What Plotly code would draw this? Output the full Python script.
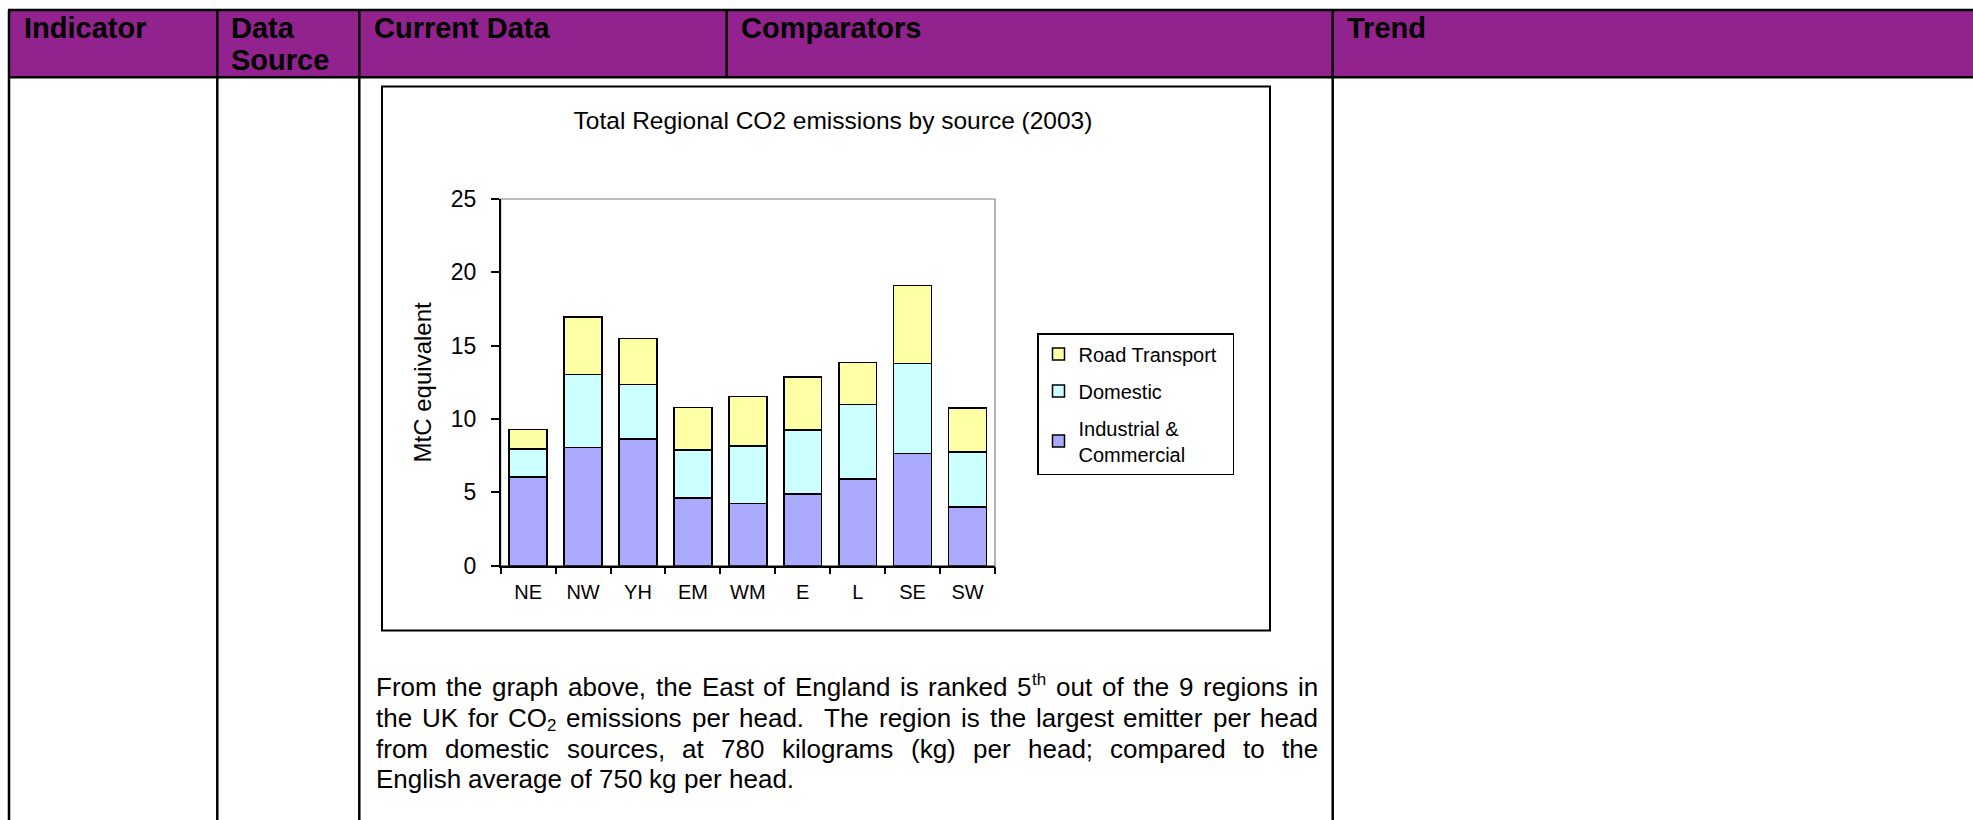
import re
import plotly.graph_objects as go

W, H = 1973, 820

# ---- data ----
regions = ["NE", "NW", "YH", "EM", "WM", "E", "L", "SE", "SW"]
industrial = [6.05, 8.05, 8.65, 4.6, 4.25, 4.9, 5.9, 7.65, 4.0]
domestic = [1.9, 5.0, 3.7, 3.3, 3.9, 4.35, 5.1, 6.15, 3.75]
road = [1.35, 3.9, 3.15, 2.9, 3.4, 3.6, 2.85, 5.3, 3.0]
series_names = ["Industrial &<br>Commercial", "Domestic", "Road Transport\u00a0\u00a0"]
series_colors = ["#AAAAFF", "#CCFFFF", "#FFFFA6"]
legend_ranks = [3, 2, 1]
y_ticks = [0, 5, 10, 15, 20, 25]

chart_title = "Total Regional CO2 emissions by source (2003)"
y_title = "MtC equivalent"
header_labels = ["Indicator", "Current Data", "Comparators", "Trend"]
paragraph = [
    "From the graph above, the East of England is ranked 5<sup>th</sup> out of the 9 regions in",
    "the UK for CO<sub>2</sub> emissions per head.  The region is the largest emitter per head",
    "from domestic sources, at 780 kilograms (kg) per head; compared to the",
    "English average of 750 kg per head.",
]

FONT = "Liberation Sans, Arial, sans-serif"

# Arial / Liberation Sans advance widths (1/1000 em) for text layout
AW = {' ': 278, ',': 278, '.': 278, ';': 278, '(': 333, ')': 333, '&': 667}
AW.update({d: 556 for d in "0123456789"})
AW.update(dict(A=667, B=667, C=722, D=722, E=667, F=611, G=778, H=722, I=278, K=667, L=556,
               M=833, N=722, O=778, R=722, S=667, T=611, U=722, W=944, Y=667))
AW.update(dict(a=556, b=556, c=500, d=556, e=556, f=278, g=556, h=556, i=222, j=222, k=500,
               l=222, m=833, n=556, o=556, p=556, q=556, r=333, s=500, t=278, u=556, v=500,
               w=722, x=500, y=500, z=500))


def tw(s, size):
    return sum(AW.get(c, 556) for c in s) / 1000.0 * size


def px(x):
    return x / W


def py(y):
    return 1 - y / H


fig = go.Figure()
for name, vals, col, rk in zip(series_names, [industrial, domestic, road], series_colors, legend_ranks):
    fig.add_trace(go.Bar(
        x=regions, y=vals, name=name, legendgroup=name, legendrank=rk,
        marker=dict(color=col, line=dict(color="black", width=1.5)),
    ))

shapes = []
purple = "#92228E"
shapes.append(dict(type="rect", xref="paper", yref="paper", x0=px(9), x1=1.01, y0=py(77), y1=py(10),
                   fillcolor=purple, line=dict(width=0), layer="below"))
for yy in (10, 77.3):
    shapes.append(dict(type="line", xref="paper", yref="paper", x0=px(8), x1=1.01, y0=py(yy), y1=py(yy),
                       line=dict(color="black", width=2.5)))
for xx in (9, 217.3, 359.3, 1332.7):
    shapes.append(dict(type="line", xref="paper", yref="paper", x0=px(xx), x1=px(xx), y0=py(10), y1=py(822),
                       line=dict(color="black", width=2.5)))
shapes.append(dict(type="line", xref="paper", yref="paper", x0=px(726.7), x1=px(726.7), y0=py(10), y1=py(77.3),
                   line=dict(color="black", width=2.5)))
# chart box
shapes.append(dict(type="rect", xref="paper", yref="paper", x0=px(382), x1=px(1270), y0=py(630.5), y1=py(86.5),
                   line=dict(color="black", width=2), fillcolor="rgba(0,0,0,0)"))
# plot area border (grey)
shapes.append(dict(type="rect", xref="x domain", yref="y domain", x0=0, x1=1, y0=0, y1=1,
                   line=dict(color="#808080", width=1.2), layer="below"))

annotations = []


def ann(text, x, y, size, bold=False, xanchor="left"):
    annotations.append(dict(text=("<b>%s</b>" % text) if bold else text, xref="paper", yref="paper",
                            x=px(x), y=py(y), xanchor=xanchor, yanchor="middle", showarrow=False,
                            borderpad=0, font=dict(family=FONT, size=size, color="black")))


ann(header_labels[0], 23, 27.5, 29, True)
ann("Data", 230, 27.5, 29, True)
ann("Source", 230, 60.5, 29, True)
ann(header_labels[1], 373, 27.5, 29, True)
ann(header_labels[2], 740, 27.5, 29, True)
ann(header_labels[3], 1346, 27.5, 29, True)

# justified paragraph, laid out word by word
LEFT, RIGHT, FS, SFS = 375, 1317, 26, 17
line_y = [686.5, 717.5, 748.5, 778.8]


def pieces_of(word):
    out, pos = [], 0
    for m in re.finditer(r"<(sup|sub)>(.*?)</\1>", word):
        if m.start() > pos:
            out.append((word[pos:m.start()], "n"))
        out.append((m.group(2), m.group(1)))
        pos = m.end()
    if pos < len(word):
        out.append((word[pos:], "n"))
    return out


def piece_w(p):
    return tw(p[0], FS if p[1] == "n" else SFS)


for li, line in enumerate(paragraph):
    tokens = line.split(" ")
    nsp = len(tokens) - 1
    words_w = sum(piece_w(p) for t in tokens for p in pieces_of(t))
    sp = tw(" ", FS)
    natural = words_w + nsp * sp
    justify = li < len(paragraph) - 1
    if justify:
        sp = sp + (RIGHT - LEFT - natural) / nsp
    x = LEFT
    yc = line_y[li]
    for t in tokens:
        for p in pieces_of(t):
            if p[1] == "n":
                ann(p[0], x, yc, FS)
            elif p[1] == "sup":
                ann(p[0], x, yc - 7.5, SFS)
            else:
                ann(p[0], x, yc + 7.5, SFS)
            x += piece_w(p)
        x += sp

fig.update_layout(
    width=W, height=H,
    margin=dict(l=0, r=0, t=0, b=0, autoexpand=False),
    paper_bgcolor="white", plot_bgcolor="white",
    barmode="stack", bargap=0.31,
    font=dict(family=FONT, color="black"),
    title=dict(text=chart_title, x=px(833), y=py(120), xref="paper", yref="paper",
               xanchor="center", yanchor="middle", font=dict(family=FONT, size=24.5, color="black")),
    xaxis=dict(domain=[px(500.7), px(995)], showline=True, linecolor="black", linewidth=1.5,
               ticks="outside", tickson="boundaries", ticklen=7, tickcolor="black", tickwidth=1.5,
               tickfont=dict(family=FONT, size=20, color="black"), ticklabelstandoff=8,
               showgrid=False, zeroline=False, automargin=False, fixedrange=True),
    yaxis=dict(domain=[py(565.7), py(199)], range=[0, 25], tickvals=y_ticks, showline=True,
               linecolor="black", linewidth=1.5, ticks="outside", ticklen=8, tickcolor="black", tickwidth=1.5,
               tickfont=dict(family=FONT, size=23, color="black"), ticklabelstandoff=10,
               showgrid=False, zeroline=False, automargin=False, fixedrange=True,
               title=dict(text=y_title, font=dict(family=FONT, size=24, color="black"), standoff=12)),
    legend=dict(x=px(1037), y=py(333), xanchor="left", yanchor="top", traceorder="grouped",
                bordercolor="black", borderwidth=1.5, bgcolor="white",
                font=dict(family=FONT, size=20, color="black"), tracegroupgap=8),
    shapes=shapes,
    annotations=annotations,
    showlegend=True,
)

fig.write_html("out.html", config={"displayModeBar": False},
               post_script="document.body.style.margin='0';")
